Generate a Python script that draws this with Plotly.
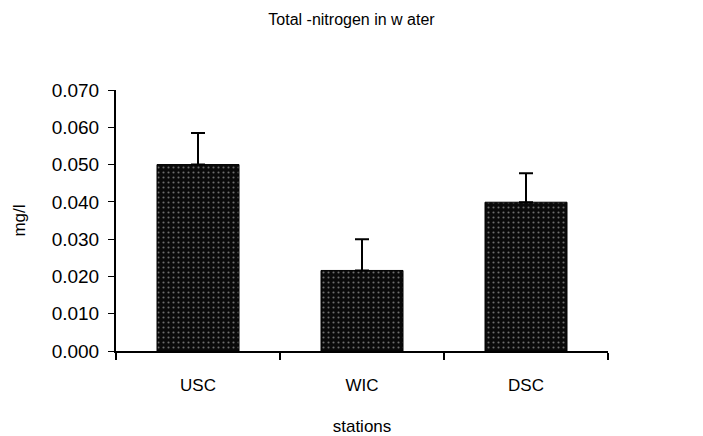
import plotly.graph_objects as go

stations = ["USC", "WIC", "DSC"]
total_n = [0.050, 0.0216, 0.0399]
total_n_err = [0.0085, 0.0084, 0.0078]
y_ticks = [0.0, 0.01, 0.02, 0.03, 0.04, 0.05, 0.06, 0.07]
y_tick_text = ["0.000", "0.010", "0.020", "0.030", "0.040", "0.050", "0.060", "0.070"]

FONT = "Liberation Sans, Arial, sans-serif"

fig = go.Figure(
    go.Bar(
        x=stations,
        y=total_n,
        width=0.5,
        marker=dict(
            color="#0a0a0a",
            line=dict(color="#000000", width=1),
            pattern=dict(shape=".", fgcolor="#d0d0d0", bgcolor="#0a0a0a",
                         size=5, solidity=0.14),
        ),
        error_y=dict(type="data", array=total_n_err, symmetric=False,
                     arrayminus=[0, 0, 0], color="#000000",
                     thickness=2, width=7),
    )
)

fig.update_layout(
    width=703,
    height=436,
    margin=dict(l=116, r=95, t=90, b=85),
    paper_bgcolor="white",
    plot_bgcolor="white",
    showlegend=False,
    font=dict(family=FONT, color="#000000", size=17),
    title=dict(text="Total -nitrogen in w ater", x=0.5, xref="container",
               xanchor="center", y=1 - 19 / 436, yref="container",
               yanchor="middle", font=dict(size=16)),
)

fig.update_xaxes(
    type="category",
    automargin=False,
    showline=True, linecolor="#000000", linewidth=2,
    ticks="outside", tickson="boundaries", ticklen=7, tickwidth=2,
    tickcolor="#000000",
    tickfont=dict(size=17),
    ticklabelstandoff=18,
    title=dict(text="stations", font=dict(size=17), standoff=27),
    showgrid=False, zeroline=False,
    range=[-0.5, 2.5],
)
fig.update_yaxes(
    range=[0, 0.07],
    automargin=False,
    tickvals=y_ticks, ticktext=y_tick_text,
    showline=True, linecolor="#000000", linewidth=2,
    ticks="outside", ticklen=6, tickwidth=1, tickcolor="#000000",
    tickfont=dict(size=19),
    ticklabelstandoff=5,
    title=dict(text="mg/l", font=dict(size=17), standoff=22),
    showgrid=False, zeroline=False,
)

fig.write_html("out.html")
